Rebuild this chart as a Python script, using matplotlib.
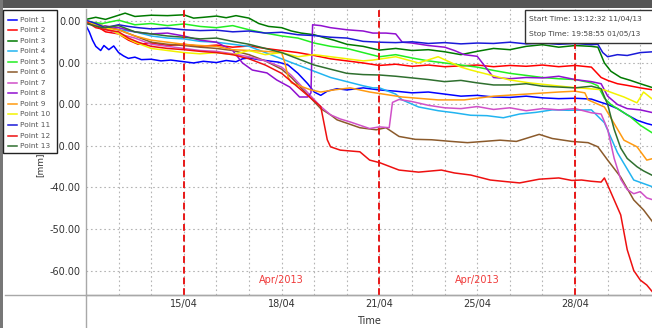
import matplotlib
matplotlib.use("Agg")
import matplotlib.pyplot as plt
from matplotlib.lines import Line2D
from matplotlib.patches import Rectangle

plt.rcParams['font.family'] = ['DejaVu Sans']

W, H = 652, 328

# time axis in grid units (one unit per gridline)
tick_pos = [3, 6, 9, 12, 15]
tick_labels = ["15/04", "18/04", "21/04", "25/04", "28/04"]
month_marks = [3, 9, 15]
month_label_pos = [6, 12]
month_label = "Apr/2013"
y_ticks = [0, -10, -20, -30, -40, -50, -60]

names = ["Point %d" % i for i in range(1, 14)]
colors = ["#0000ff", "#ff0000", "#007a00", "#22b4f0", "#22ee22", "#8b5a2b",
          "#d050c8", "#9010d0", "#ff9a10", "#f2f200", "#1a1ad8", "#ee1010", "#2f6f2f"]

p1_t = [0, 0.1, 0.2, 0.3, 0.45, 0.55, 0.7, 0.85, 1.0, 1.15, 1.3, 1.5, 1.7, 2.0, 2.3, 2.6, 3.0, 3.3, 3.6, 4.0,
        4.3, 4.6, 4.8, 5.0, 5.3, 5.6, 5.9, 6.2, 6.5, 6.8, 7.0, 7.2, 7.4, 7.7, 8.0, 8.5, 9.0, 9.5, 10.0, 10.5,
        11.0, 11.5, 12.0, 12.5, 13.0, 13.5, 14.0, 14.5, 15.0, 15.5, 15.8, 16.0, 16.3, 16.6, 16.9, 17.2, 17.4]
p1_v = [-1.0, -2.5, -4.5, -6.0, -7.0, -5.8, -6.8, -5.9, -7.5, -8.3, -8.9, -8.6, -9.2, -9.1, -9.5, -9.3, -9.7,
        -10.0, -9.6, -9.9, -9.4, -9.7, -9.0, -8.8, -9.2, -9.5, -9.8, -10.5, -12.5, -15.0, -17.0, -17.8, -16.8,
        -16.2, -16.5, -16.0, -16.5, -16.8, -17.2, -17.0, -17.5, -18.0, -17.8, -18.2, -18.3, -18.0, -18.4, -18.6,
        -18.5, -18.7, -19.5, -20.0, -21.0, -22.5, -23.8, -24.6, -25.0]

p2_t = [0, 0.3, 0.6, 1.0, 1.3, 1.6, 2.0, 2.5, 3.0, 3.5, 4.0, 4.5, 5.0, 5.5, 6.0, 6.5, 7.0, 7.5, 8.0, 8.5, 9.0,
        9.5, 10.0, 10.5, 11.0, 11.5, 12.0, 12.5, 13.0, 13.5, 14.0, 14.5, 15.0, 15.5, 15.8, 16.0, 16.3, 16.6,
        17.0, 17.4]
p2_v = [0, -1.0, -2.5, -3.0, -4.5, -5.5, -5.2, -5.8, -5.5, -6.0, -5.7, -6.2, -5.9, -6.5, -7.0, -7.5, -8.2,
        -9.0, -9.5, -10.0, -10.6, -10.3, -10.8, -10.5, -10.9, -10.7, -10.5, -10.9, -10.6, -10.8, -10.5, -10.9,
        -10.6, -11.0, -13.5, -14.2, -15.0, -15.4, -16.0, -16.5]

p3_t = [0, 0.3, 0.6, 1.0, 1.2, 1.5, 2.0, 2.5, 3.0, 3.3, 3.6, 4.0, 4.3, 4.6, 5.0, 5.3, 5.6, 6.0, 6.3, 6.6, 7.0,
        7.3, 7.6, 8.0, 8.5, 9.0, 9.5, 10.0, 10.5, 11.0, 11.5, 12.0, 12.5, 13.0, 13.5, 14.0, 14.5, 15.0, 15.5,
        15.7, 15.9, 16.1, 16.4, 16.7, 17.0, 17.4]
p3_v = [0.5, 1.0, 0.5, 1.5, 2.0, 1.2, 1.5, 1.4, 1.6, 0.8, 1.0, 1.3, 0.9, 1.4, 0.8, -0.5, -1.2, -1.5, -2.3,
        -2.8, -3.2, -3.9, -4.5, -5.5, -6.0, -6.9, -6.5, -7.0, -6.8, -7.3, -8.0, -7.2, -6.5, -6.8, -6.0, -5.6,
        -6.2, -5.8, -6.0, -6.2, -10.0, -12.0, -13.5, -14.2, -15.0, -16.0]

p4_t = [0, 0.5, 1.0, 1.5, 2.0, 2.5, 3.0, 3.5, 4.0, 4.5, 5.0, 5.5, 6.0, 6.5, 7.0, 7.5, 8.0, 8.5, 8.8, 9.0, 9.5,
        9.7, 10.2, 10.8, 11.3, 11.8, 12.3, 12.8, 13.3, 13.8, 14.3, 14.8, 15.5, 15.9, 16.3, 16.8, 17.4]
p4_v = [0, -1.0, -2.0, -2.5, -3.5, -4.0, -4.2, -4.8, -5.0, -5.5, -6.0, -7.5, -9.0, -10.5, -12.0, -13.5,
        -14.5, -15.5, -16.0, -16.0, -17.5, -18.9, -20.6, -21.5, -22.0, -22.6, -22.7, -23.2, -22.3, -21.9,
        -21.3, -21.4, -21.3, -24.4, -31.6, -38.2, -39.9]

p5_t = [0, 0.5, 1.0, 1.5, 2.0, 2.5, 3.0, 3.5, 4.0, 4.5, 5.0, 5.5, 6.0, 6.5, 7.0, 7.5, 8.0, 8.5, 9.0, 9.5, 10.0,
        10.5, 11.0, 11.5, 12.0, 12.5, 13.0, 13.5, 14.0, 14.5, 15.0, 15.5, 15.7, 15.9, 16.1, 16.4, 16.7, 17.0,
        17.4]
p5_v = [0, -0.5, 0.3, -0.8, -0.5, -1.0, -0.6, -1.2, -1.5, -1.0, -2.0, -2.8, -3.5, -4.0, -5.2, -6.0, -6.5,
        -7.5, -8.5, -8.0, -8.8, -9.5, -10.0, -10.5, -11.0, -11.8, -12.5, -13.0, -13.5, -13.8, -14.0, -14.8,
        -15.5, -18.5, -20.0, -21.5, -23.0, -25.0, -27.0]

p6_t = [0, 0.5, 1.0, 1.5, 2.0, 2.5, 3.0, 3.5, 4.0, 4.5, 5.0, 5.5, 6.0, 6.3, 6.6, 6.9, 7.2, 7.5, 7.7, 8.4, 8.9,
        9.2, 9.6, 10.1, 10.6, 11.2, 11.7, 12.2, 12.7, 13.2, 13.9, 14.3, 14.9, 15.4, 15.7, 16.0, 16.4, 16.8,
        17.1, 17.4]
p6_v = [0, -1.0, -2.0, -3.5, -5.0, -5.5, -5.8, -6.2, -6.5, -7.0, -8.0, -9.5, -11.5, -13.5, -16.0, -18.5,
        -21.0, -22.5, -23.7, -25.6, -26.1, -25.6, -27.7, -28.4, -28.5, -28.9, -29.2, -28.9, -28.6, -28.9,
        -27.2, -28.2, -28.9, -29.2, -30.2, -33.4, -37.5, -43.0, -45.4, -48.5]

p7_t = [0, 0.5, 1.0, 1.5, 2.0, 2.5, 3.0, 3.5, 4.0, 4.5, 5.0, 5.5, 6.0, 6.3, 6.6, 6.9, 7.2, 7.5, 7.8, 8.1, 8.4,
        8.7, 9.0, 9.3, 9.4, 9.6, 10.0, 10.5, 11.0, 11.5, 12.0, 12.5, 13.0, 13.5, 14.0, 14.5, 15.0, 15.5, 15.8,
        16.0, 16.2, 16.4, 16.6, 16.8, 17.0, 17.2, 17.4]
p7_v = [0, -1.5, -3.0, -4.0, -5.5, -6.0, -6.5, -7.0, -7.2, -7.8, -8.5, -9.5, -11.0, -13.0, -15.5, -18.0,
        -20.5, -22.5, -23.5, -24.2, -25.0, -25.8, -25.4, -25.6, -19.5, -18.8, -19.3, -20.2, -20.8, -21.0,
        -20.5, -21.2, -20.8, -21.5, -21.0, -21.3, -21.0, -22.0, -22.3, -26.0, -33.0, -38.0, -40.5, -41.5,
        -41.0, -42.5, -43.0]

p8_t = [0, 0.5, 1.0, 1.5, 2.0, 2.5, 3.0, 3.5, 4.0, 4.5, 4.8, 5.1, 5.55, 5.85, 6.25, 6.55, 6.8, 6.9, 6.95, 7.2,
        7.5, 8.0, 8.5, 8.8, 9.2, 9.5, 9.7, 10.0, 10.5, 11.0, 11.3, 11.6, 12.0, 12.5, 13.0, 13.5, 14.0, 14.5,
        15.0, 15.5, 15.8, 16.0, 16.3, 16.6, 17.0, 17.4]
p8_v = [-0.5, -1.0, -1.5, -2.5, -3.0, -2.8, -3.5, -4.5, -5.0, -7.0, -10.0, -11.7, -12.4, -14.1, -15.8,
        -18.2, -18.2, -17.2, -0.8, -1.0, -1.5, -2.0, -2.3, -2.8, -2.8, -3.0, -5.0, -5.2, -5.8, -6.2, -7.0,
        -8.0, -8.4, -13.5, -13.8, -13.5, -13.6, -13.2, -14.0, -14.5, -15.0, -18.0, -20.0, -21.0, -21.3, -22.0]

p9_t = [0, 0.5, 1.0, 1.5, 2.0, 2.5, 3.0, 3.5, 4.0, 4.5, 5.0, 5.5, 6.0, 6.1, 6.2, 6.3, 6.9, 7.2, 7.6, 8.1, 8.7,
        9.7, 10.8, 11.6, 12.5, 13.5, 14.5, 15.0, 15.3, 15.4, 15.9, 16.5, 16.9, 17.2, 17.4]
p9_v = [0, -1.5, -2.0, -3.5, -4.5, -5.0, -5.5, -5.8, -6.0, -6.8, -7.0, -7.2, -7.5, -10.0, -13.4, -14.8,
        -16.5, -17.0, -16.5, -16.0, -17.0, -18.2, -18.9, -18.9, -18.0, -17.5, -17.0, -16.8, -17.2, -18.9,
        -20.6, -28.6, -30.2, -33.4, -33.0]

p10_t = [0, 0.5, 1.0, 1.5, 2.0, 2.5, 3.0, 3.5, 4.0, 4.5, 5.0, 5.5, 6.0, 6.5, 7.0, 7.5, 8.0, 8.5, 8.8, 9.5,
         10.2, 10.8, 11.5, 11.8, 13.0, 13.6, 14.8, 15.9, 16.5, 16.9, 17.1, 17.4]
p10_v = [0, -1.0, -3.0, -5.0, -6.5, -7.0, -7.5, -7.8, -7.5, -8.0, -7.0, -8.0, -7.5, -8.5, -8.0, -8.5, -9.0,
         -9.5, -9.3, -8.5, -10.0, -8.5, -11.0, -11.7, -14.1, -14.8, -15.8, -16.5, -18.2, -19.6, -17.0, -18.9]

p11_t = [0, 0.3, 0.6, 1.0, 1.3, 1.6, 2.0, 2.5, 3.0, 3.5, 4.0, 4.5, 5.0, 5.5, 6.0, 6.5, 7.0, 7.5, 8.0, 8.5,
         9.0, 9.5, 10.0, 10.5, 11.0, 11.5, 12.0, 12.5, 13.0, 13.5, 14.0, 14.5, 15.0, 15.5, 15.7, 15.85, 16.0,
         16.3, 16.6, 17.0, 17.4]
p11_v = [0.3, -0.5, -1.5, -0.8, -1.2, -1.5, -1.8, -1.6, -2.0, -2.2, -2.1, -2.5, -2.3, -2.8, -2.6, -3.2,
         -3.4, -3.8, -4.0, -4.8, -5.0, -5.1, -4.9, -5.3, -5.1, -5.4, -5.2, -5.3, -5.0, -5.4, -5.2, -5.5, -5.3,
         -5.6, -5.5, -7.5, -8.5, -8.0, -8.2, -7.5, -7.3]

p12_t = [0, 0.3, 0.6, 1.0, 1.3, 1.6, 2.0, 2.5, 3.0, 3.5, 4.0, 4.5, 5.0, 5.5, 6.0, 6.3, 6.6, 6.9, 7.2, 7.4,
         7.5, 7.8, 8.4, 8.7, 9.0, 9.6, 10.2, 10.9, 11.3, 11.8, 12.4, 12.9, 13.3, 13.9, 14.5, 14.9, 15.2, 15.5,
         15.8, 15.9, 16.0, 16.2, 16.4, 16.6, 16.8, 17.0, 17.2, 17.4]
p12_v = [0, -1.5, -2.0, -2.5, -4.0, -5.0, -6.0, -6.5, -6.8, -7.2, -7.5, -8.0, -9.0, -10.5, -12.5, -14.5,
         -16.5, -18.5, -20.5, -28.5, -30.2, -31.0, -31.4, -33.4, -34.0, -35.8, -36.3, -35.8, -36.5, -37.0,
         -38.2, -38.6, -38.9, -38.0, -37.7, -38.3, -38.2, -38.5, -38.7, -37.7, -39.4, -43.0, -46.6, -55.0,
         -60.0, -62.3, -63.5, -65.4]

p13_t = [0, 0.5, 1.0, 1.5, 2.0, 2.5, 3.0, 3.5, 4.0, 4.5, 5.0, 5.5, 6.0, 6.5, 7.0, 7.5, 8.0, 8.5, 9.0, 9.5,
         10.0, 10.5, 11.0, 11.5, 12.0, 12.5, 13.0, 13.5, 14.0, 14.5, 15.0, 15.5, 15.8, 16.0, 16.2, 16.4, 16.6,
         16.9, 17.1, 17.4]
p13_v = [-0.5, -1.5, -1.0, -2.5, -3.0, -3.5, -3.8, -4.2, -4.0, -4.8, -5.5, -6.5, -7.5, -9.0, -10.5, -11.5,
         -12.5, -12.8, -12.9, -13.2, -13.6, -14.0, -14.5, -14.2, -14.8, -15.3, -15.3, -15.0, -15.6, -15.8,
         -16.0, -15.6, -16.2, -20.0, -26.0, -30.5, -33.0, -35.0, -36.0, -37.2]

series_t = [p1_t, p2_t, p3_t, p4_t, p5_t, p6_t, p7_t, p8_t, p9_t, p10_t, p11_t, p12_t, p13_t]
series_v = [p1_v, p2_v, p3_v, p4_v, p5_v, p6_v, p7_v, p8_v, p9_v, p10_v, p11_v, p12_v, p13_v]

fig = plt.figure(figsize=(W / 100, H / 100), dpi=100)
fig.patch.set_facecolor("white")

ax_left, ax_top, ax_bottom = 86, 9, 295
ax = fig.add_axes([ax_left / W, 1 - ax_bottom / H, 1 - ax_left / W, (ax_bottom - ax_top) / H])
ax.set_xlim(0, 17.36)
ax.set_ylim(-65.9, 3.0)

for sp in ["top", "right"]:
    ax.spines[sp].set_visible(False)
for sp in ["left", "bottom"]:
    ax.spines[sp].set_color("#a8a8a8")
    ax.spines[sp].set_linewidth(1.0)

# dotted grid
for g in range(1, 18):
    ax.axvline(g, color="#b4b4b4", lw=0.8, ls=(0, (1.5, 2.5)), zorder=0)
for yv in y_ticks:
    ax.axhline(yv, color="#b4b4b4", lw=0.8, ls=(0, (1.5, 2.5)), zorder=0)

ax.set_yticks(y_ticks)
ax.set_yticklabels(["%.2f" % v for v in y_ticks])
ax.set_xticks(tick_pos)
ax.set_xticklabels(tick_labels)
ax.tick_params(axis="both", length=0, labelsize=7, colors="#333333")
ax.tick_params(axis="x", pad=3)
ax.tick_params(axis="y", pad=4)
ax.set_xlabel("Time", fontsize=7, color="#333333", labelpad=5)

for i in range(13):
    ax.plot(series_t[i], series_v[i], color=colors[i], lw=1.1, zorder=2 + i * 0.01,
            solid_joinstyle="round")

for m in month_marks:
    ax.axvline(m, color="#e81818", lw=1.4, ls=(0, (3.5, 2)), zorder=3)
for p in month_label_pos:
    ax.text(p, -62.2, month_label, color="#f03a3a", fontsize=7, ha="center", va="center", zorder=4)

# extended axis lines
fig.add_artist(Line2D([5 / W, 1], [1 - ax_bottom / H] * 2, color="#a8a8a8", lw=1.0))
fig.add_artist(Line2D([ax_left / W] * 2, [0, 1 - ax_bottom / H], color="#a8a8a8", lw=1.0))

# window frame strips
fig.add_artist(Rectangle((0, 1 - 8 / H), 1, 8 / H, transform=fig.transFigure,
                         facecolor="#555555", edgecolor="none", zorder=5))
fig.add_artist(Rectangle((0, 0), 3 / W, 1, transform=fig.transFigure,
                         facecolor="#777777", edgecolor="none", zorder=5))

# y axis unit label
fig.text(40 / W, 1 - 165 / H, "[mm]", rotation=90, fontsize=6.5, color="#333333",
         ha="center", va="center")

# legend box
lx0, ly0, lx1, ly1 = 3, 10, 57, 153
fig.add_artist(Rectangle((lx0 / W, 1 - ly1 / H), (lx1 - lx0) / W, (ly1 - ly0) / H,
                         transform=fig.transFigure, facecolor="white", edgecolor="#222222",
                         lw=1.0, zorder=6))
row0, row_h = 19.5, 10.55
for i, nm in enumerate(names):
    yy = 1 - (row0 + i * row_h) / H
    fig.add_artist(Line2D([8 / W, 17 / W], [yy, yy], color=colors[i], lw=1.1, zorder=7))
    fig.text(20 / W, yy, nm, fontsize=5.3, color="#555555", ha="left", va="center", zorder=7)

# start / stop info box
bx0, by0, bx1, by1 = 525, 10, 660, 43
fig.add_artist(Rectangle((bx0 / W, 1 - by1 / H), (bx1 - bx0) / W, (by1 - by0) / H,
                         transform=fig.transFigure, facecolor="white", edgecolor="#333333",
                         lw=1.0, zorder=6))
fig.text(529 / W, 1 - 18.5 / H, "Start Time: 13:12:32 11/04/13", fontsize=5.4, color="#444444",
         ha="left", va="center", zorder=7)
fig.text(529 / W, 1 - 34 / H, "Stop Time: 19:58:55 01/05/13", fontsize=5.4, color="#444444",
         ha="left", va="center", zorder=7)

fig.savefig("out.png", dpi=100)
